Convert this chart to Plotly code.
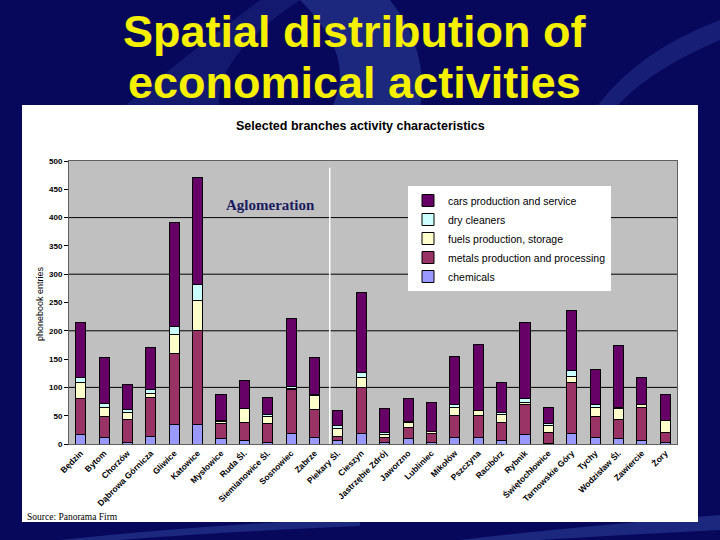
import plotly.graph_objects as go

# ---------------- data ----------------
cities = ["Będzin", "Bytom", "Chorzów", "Dąbrowa Górnicza", "Gliwice", "Katowice",
          "Mysłowice", "Ruda Śl.", "Siemianowice Śl.", "Sosnowiec", "Zabrze",
          "Piekary Śl.", "Cieszyn", "Jastrzębie Zdrój", "Jaworzno", "Lubliniec",
          "Mikołów", "Pszczyna", "Racibórz", "Rybnik", "Świętochłowice",
          "Tarnowskie Góry", "Tychy", "Wodzisław Śl.", "Zawiercie", "Żory"]

chemicals = [16, 12, 2, 14, 34, 34, 9, 7, 2, 19, 12, 6, 18, 3, 9, 2, 12, 11, 6, 16, 1, 19, 12, 9, 6, 2]
metals    = [65, 37, 42, 69, 126, 167, 28, 31, 35, 78, 49, 8, 81, 9, 20, 16, 39, 40, 32, 53, 19, 89, 36, 34, 58, 19]
fuels     = [28, 15, 11, 6, 33, 52, 3, 24, 12, 1, 24, 13, 19, 4, 9, 4, 13, 9, 15, 5, 13, 12, 17, 20, 6, 21]
dry       = [9, 8, 6, 8, 15, 29, 1, 1, 4, 4, 2, 5, 8, 5, 1, 0, 5, 0, 2, 7, 4, 10, 5, 1, 0, 0]
cars      = [97, 80, 45, 73, 184, 188, 47, 49, 29, 119, 65, 27, 142, 41, 41, 52, 86, 115, 53, 133, 27, 105, 61, 110, 47, 45]

series = [
    ("chemicals", chemicals, "#9999FF"),
    ("metals production and processing", metals, "#993366"),
    ("fuels production, storage", fuels, "#FFFFCC"),
    ("dry cleaners", dry, "#CCFFFF"),
    ("cars production and service", cars, "#660066"),
]

y_ticks = list(range(0, 501, 50))
grid_vals = [100, 200, 300, 400]

# ---------------- layout helpers ----------------
W, H = 720, 540
L, R, T, B = 69, 43, 161, 96
PW, PH = W - L - R, H - T - B


def px(x):
    return (x - L) / PW


def py(y):
    return (H - B - y) / PH


fig = go.Figure()
for name, vals, col in series:
    fig.add_trace(go.Bar(
        x=cities, y=vals, name=name,
        marker=dict(color=col, line=dict(color="black", width=1)),
    ))

shapes = []
# decorative swooshes in background
sw = "rgba(70,100,190,0.35)"
shapes.append(dict(type="path", xref="paper", yref="paper", layer="below",
                   path=f"M {px(300)},{py(0)} Q {px(360)},{py(60)} {px(330)},{py(110)} "
                        f"L {px(420)},{py(110)} Q {px(430)},{py(50)} {px(390)},{py(0)} Z",
                   fillcolor=sw, line=dict(width=0)))
shapes.append(dict(type="path", xref="paper", yref="paper", layer="below",
                   path=f"M {px(120)},{py(110)} Q {px(180)},{py(60)} {px(260)},{py(0)} "
                        f"L {px(300)},{py(0)} Q {px(210)},{py(60)} {px(220)},{py(110)} Z",
                   fillcolor="rgba(70,100,190,0.2)", line=dict(width=0)))
shapes.append(dict(type="path", xref="paper", yref="paper", layer="below",
                   path=f"M {px(60)},{py(540)} Q {px(200)},{py(525)} {px(360)},{py(518)} "
                        f"L {px(360)},{py(526)} Q {px(220)},{py(532)} {px(120)},{py(540)} Z",
                   fillcolor=sw, line=dict(width=0)))
shapes.append(dict(type="path", xref="paper", yref="paper", layer="below",
                   path=f"M {px(460)},{py(540)} Q {px(560)},{py(528)} {px(720)},{py(515)} "
                        f"L {px(720)},{py(530)} Q {px(600)},{py(536)} {px(540)},{py(540)} Z",
                   fillcolor=sw, line=dict(width=0)))
shapes.append(dict(type="path", xref="paper", yref="paper", layer="below",
                   path=f"M {px(598)},{py(105)} Q {px(640)},{py(50)} {px(720)},{py(20)} "
                        f"L {px(720)},{py(40)} Q {px(650)},{py(70)} {px(618)},{py(105)} Z",
                   fillcolor="rgba(70,100,190,0.25)", line=dict(width=0)))
# white chart panel
shapes.append(dict(type="rect", xref="paper", yref="paper", layer="below",
                   x0=px(22), x1=px(698), y0=py(522), y1=py(105),
                   fillcolor="white", line=dict(width=0)))
# gray plot area
shapes.append(dict(type="rect", xref="paper", yref="paper", layer="below",
                   x0=0, x1=1, y0=0, y1=1,
                   fillcolor="#C0C0C0", line=dict(width=0)))
# gridlines
for g in grid_vals:
    shapes.append(dict(type="line", xref="paper", yref="y", layer="below",
                       x0=0, x1=1, y0=g, y1=g, line=dict(color="black", width=1)))
# white separator of agglomeration
shapes.append(dict(type="line", xref="x", yref="y", layer="above",
                   x0=10.65, x1=10.65, y0=0, y1=488, line=dict(color="white", width=1.5)))

annotations = [
    dict(text="Spatial distribution of", x=px(354), y=py(31), xref="paper", yref="paper",
         showarrow=False, xanchor="center", yanchor="middle",
         font=dict(family="Liberation Sans", size=45, color="#F5F000", weight="bold")),
    dict(text="economical activities", x=px(354), y=py(82), xref="paper", yref="paper",
         showarrow=False, xanchor="center", yanchor="middle",
         font=dict(family="Liberation Sans", size=45, color="#F5F000", weight="bold")),
    dict(text="Selected branches activity characteristics", x=px(360), y=py(126),
         xref="paper", yref="paper", showarrow=False, xanchor="center", yanchor="middle",
         font=dict(family="Liberation Sans", size=12.5, color="black", weight="bold")),
    dict(text="phonebook entries", x=px(40), y=py(304), xref="paper", yref="paper",
         showarrow=False, textangle=-90, xanchor="center", yanchor="middle",
         font=dict(family="Liberation Sans", size=9, color="black")),
    dict(text="Aglomeration", x=px(270), y=py(205), xref="paper", yref="paper",
         showarrow=False, xanchor="center", yanchor="middle",
         font=dict(family="Liberation Serif", size=15, color="#1a1a5e", weight="bold")),
    dict(text="Source: Panorama Firm", x=px(25), y=py(517), xref="paper", yref="paper",
         showarrow=False, xanchor="left", yanchor="middle",
         font=dict(family="Liberation Serif", size=9.5, color="black")),
]

fig.update_layout(
    width=W, height=H,
    margin=dict(l=L, r=R, t=T, b=B, autoexpand=False),
    paper_bgcolor="#07075c",
    plot_bgcolor="rgba(0,0,0,0)",
    barmode="stack",
    bargap=0.57,
    showlegend=True,
    legend=dict(x=px(408), y=py(186), xanchor="left", yanchor="top",
                bgcolor="white", traceorder="reversed",
                font=dict(family="Liberation Sans", size=10.5, color="black"),
                itemwidth=30, tracegroupgap=0),
    xaxis=dict(tickangle=-45, showgrid=False, showline=True, linecolor="#606060",
               mirror=True, ticks="",
               tickfont=dict(family="Liberation Sans", size=8.5, color="black", weight="bold")),
    yaxis=dict(range=[0, 500], tickvals=y_ticks, showgrid=False, zeroline=False,
               showline=True, linecolor="#606060", mirror=True,
               ticks="outside", ticklen=4, tickcolor="black",
               tickfont=dict(family="Liberation Sans", size=8, color="black", weight="bold")),
    shapes=shapes,
    annotations=annotations,
)

fig.write_html("out.html")
